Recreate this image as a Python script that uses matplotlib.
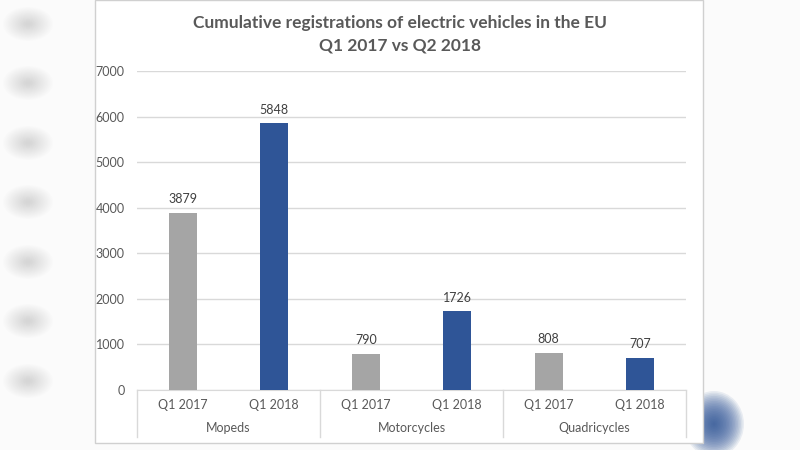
import matplotlib.pyplot as plt
from matplotlib.patches import Rectangle, Ellipse

title = "Cumulative registrations of electric vehicles in the EU\nQ1 2017 vs Q2 2018"
groups = ["Mopeds", "Motorcycles", "Quadricycles"]
periods = ["Q1 2017", "Q1 2018"]
q1_2017 = [3879, 790, 808]
q1_2018 = [5848, 1726, 707]
yticks = [0, 1000, 2000, 3000, 4000, 5000, 6000, 7000]

GRAY = "#a5a5a5"
BLUE = "#2f5597"
TXT = "#595959"
GRID = "#d9d9d9"

plt.rcParams["font.family"] = ["Lato", "DejaVu Sans"]

fig = plt.figure(figsize=(8, 4.5), dpi=100, facecolor="#fbfbfb")


def blob(cx, cy, w, h, color, alpha, n=20):
    # soft blurred spot in the background, built from stacked ellipses
    for k in range(n):
        s = 1 - k / n
        fig.patches.append(Ellipse((cx / 800, 1 - cy / 450), w * s / 800,
                                   h * s / 450, transform=fig.transFigure,
                                   facecolor=color, edgecolor="none",
                                   alpha=alpha, zorder=-10))


for cy in [24, 83, 143, 202, 262, 321, 381]:
    blob(28, cy, 50, 34, "#b0b0b0", 0.025)
blob(714, 424, 60, 66, BLUE, 0.09)

# white chart panel over the blurred background
fig.patches.append(Rectangle((95 / 800, 1 - 443 / 450), 608 / 800, 443 / 450,
                             transform=fig.transFigure, facecolor="white",
                             edgecolor="#d0d0d0", lw=1, zorder=-5))

ax = fig.add_axes([137 / 800, 1 - 390 / 450, 549 / 800, 319 / 450])
ax.set_facecolor("white")

xs = []
vals = []
cols = []
for i in range(len(groups)):
    xs += [2 * i, 2 * i + 1]
    vals += [q1_2017[i], q1_2018[i]]
    cols += [GRAY, BLUE]

ax.bar(xs, vals, width=0.31, color=cols, zorder=3)
for x, v in zip(xs, vals):
    ax.text(x, v + 170, str(v), ha="center", va="bottom", fontsize=9,
            color="#404040")

ax.set_xlim(-0.5, 5.5)
ax.set_ylim(0, 7000)
ax.set_yticks(yticks)
ax.set_yticklabels([str(t) for t in yticks], color=TXT, fontsize=9)
ax.tick_params(axis="y", length=0, pad=9)
ax.set_xticks([])
ax.grid(axis="y", color=GRID, lw=1, zorder=0)
for s in ["left", "right", "top"]:
    ax.spines[s].set_visible(False)
ax.spines["bottom"].set_color(GRID)

# two-level category axis
tr = ax.get_xaxis_transform()
for x in xs:
    ax.text(x, -0.047, periods[x % 2], transform=tr, ha="center", va="center",
            fontsize=9, color=TXT)
for i, g in enumerate(groups):
    ax.text(2 * i + 0.5, -0.12, g, transform=tr, ha="center", va="center",
            fontsize=9, color=TXT)
for b in [-0.5, 1.5, 3.5, 5.5]:
    ax.plot([b, b], [0, -0.147], transform=tr, color=GRID, lw=1, clip_on=False)

fig.text(0.5, 1 - 34 / 450, title, ha="center", va="center", fontsize=12.5,
         fontweight="bold", color=TXT, linespacing=1.5)

fig.savefig("out.png", dpi=100, facecolor=fig.get_facecolor())
